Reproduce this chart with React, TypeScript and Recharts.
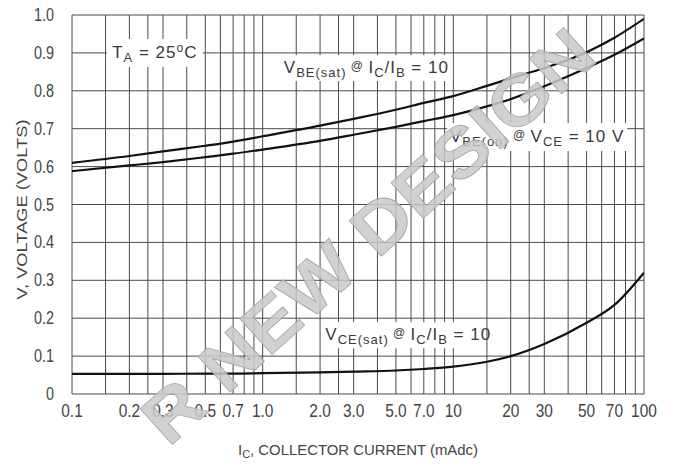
import React from "react";
import { LineChart, Line, XAxis, YAxis, ReferenceLine, ReferenceDot } from "recharts";

// Collector current (mA)
const currents = [0.1, 0.2, 0.3, 0.5, 0.7, 1, 2, 3, 5, 7, 10, 15, 20, 30, 50, 70, 100];
// VBE(sat) @ IC/IB = 10
const vbeSat = [0.61, 0.628, 0.64, 0.655, 0.666, 0.68, 0.708, 0.726, 0.75, 0.768, 0.786, 0.813, 0.833, 0.86, 0.902, 0.94, 0.99];
// VBE(on) @ VCE = 10 V
const vbeOn = [0.588, 0.603, 0.612, 0.625, 0.634, 0.645, 0.668, 0.684, 0.705, 0.72, 0.736, 0.759, 0.778, 0.812, 0.86, 0.895, 0.938];
// VCE(sat) @ IC/IB = 10
const vceSat = [0.053, 0.053, 0.053, 0.054, 0.054, 0.055, 0.057, 0.059, 0.062, 0.066, 0.072, 0.085, 0.1, 0.132, 0.188, 0.235, 0.32];

const xTicks = [0.1, 0.2, 0.3, 0.5, 0.7, 1, 2, 3, 5, 7, 10, 20, 30, 50, 70, 100];
const xTickLabels = ["0.1", "0.2", "0.3", "0.5", "0.7", "1.0", "2.0", "3.0", "5.0", "7.0", "10", "20", "30", "50", "70", "100"];
const yTicks = [0, 0.1, 0.2, 0.3, 0.4, 0.5, 0.6, 0.7, 0.8, 0.9, 1.0];
const yTickLabels = ["0", "0.1", "0.2", "0.3", "0.4", "0.5", "0.6", "0.7", "0.8", "0.9", "1.0"];
const gridX = [0.1, 0.15, 0.2, 0.25, 0.3, 0.4, 0.5, 0.6, 0.7, 0.8, 0.9, 1, 1.5, 2, 2.5, 3, 4, 5, 6, 7, 8, 9, 10, 15, 20, 25, 30, 40, 50, 60, 70, 80, 90, 100];
const gridY = [0, 0.1, 0.2, 0.3, 0.4, 0.5, 0.6, 0.7, 0.8, 0.9, 1.0];

const data = currents.map((c, i) => ({ ic: c, vbeSat: vbeSat[i], vbeOn: vbeOn[i], vceSat: vceSat[i] }));

const FONT = "'Liberation Sans', Arial, sans-serif";
const TXT = "#3a3a3a";

const XTick = (props: any) => {
  const { x, y, payload } = props;
  const i = xTicks.findIndex((t) => Math.abs(t - payload.value) < 1e-9);
  return (
    <g transform={`translate(${x},${y})`}>
      <text transform="scale(0.86,1)" x={0} y={15} textAnchor="middle" fontFamily={FONT} fontSize={18} fill="#444">
        {xTickLabels[i] ?? String(payload.value)}
      </text>
    </g>
  );
};

const YTick = (props: any) => {
  const { x, y, payload } = props;
  const i = yTicks.findIndex((t) => Math.abs(t - payload.value) < 1e-9);
  return (
    <g transform={`translate(${x},${y})`}>
      <text transform="scale(0.8,1)" x={0} y={6} textAnchor="end" fontFamily={FONT} fontSize={18} fill="#444">
        {yTickLabels[i] ?? String(payload.value)}
      </text>
    </g>
  );
};

const Box = (w: number, h: number, content: React.ReactNode) => (props: any) => {
  const { cx, cy } = props;
  return (
    <g>
      <rect x={cx - w / 2} y={cy - h / 2} width={w} height={h} fill="#fff" />
      <text x={cx} y={cy + 5} textAnchor="middle" fontFamily={FONT} fontSize={17} letterSpacing={1} fill={TXT}>
        {content}
      </text>
    </g>
  );
};

const taLabel = (
  <>
    <tspan>T</tspan>
    <tspan fontSize={13} dy={4}>A</tspan>
    <tspan dy={-4}> = 25</tspan>
    <tspan fontSize={12} dy={-6}>o</tspan>
    <tspan dy={6}>C</tspan>
  </>
);
const vbeSatLabel = (
  <>
    <tspan>V</tspan>
    <tspan fontSize={13} dy={4}>BE(sat)</tspan>
    <tspan fontSize={12} dy={-7}> @ </tspan>
    <tspan dy={3}>I</tspan>
    <tspan fontSize={13} dy={4}>C</tspan>
    <tspan dy={-4}>/I</tspan>
    <tspan fontSize={13} dy={4}>B</tspan>
    <tspan dy={-4}> = 10</tspan>
  </>
);
const vbeOnLabel = (
  <>
    <tspan>V</tspan>
    <tspan fontSize={13} dy={4}>BE(on)</tspan>
    <tspan fontSize={12} dy={-7}> @ </tspan>
    <tspan dy={3}>V</tspan>
    <tspan fontSize={13} dy={4}>CE</tspan>
    <tspan dy={-4}> = 10 V</tspan>
  </>
);
const vceSatLabel = (
  <>
    <tspan>V</tspan>
    <tspan fontSize={13} dy={4}>CE(sat)</tspan>
    <tspan fontSize={12} dy={-7}> @ </tspan>
    <tspan dy={3}>I</tspan>
    <tspan fontSize={13} dy={4}>C</tspan>
    <tspan dy={-4}>/I</tspan>
    <tspan fontSize={13} dy={4}>B</tspan>
    <tspan dy={-4}> = 10</tspan>
  </>
);

export default function App() {
  return (
    <div style={{ position: "absolute", left: 0, top: 0, width: 678, height: 468, background: "#fff", overflow: "hidden" }}>
      <LineChart width={678} height={468} data={data} margin={{ top: 15, right: 34, bottom: 0, left: 0 }}>
        <XAxis
          dataKey="ic"
          type="number"
          scale="log"
          domain={[0.1, 100]}
          ticks={xTicks}
          interval={0}
          allowDataOverflow
          height={74}
          tickLine={false}
          axisLine={false}
          tick={<XTick />}
          label={{
            content: (p: any) => {
              const vb = p.viewBox;
              return (
                <text x={vb.x + vb.width / 2} y={vb.y + 61} textAnchor="middle" fontFamily={FONT} fontSize={15} textLength={240} lengthAdjust="spacingAndGlyphs" fill="#444">
                  <tspan>I</tspan>
                  <tspan fontSize={11} dy={3}>C</tspan>
                  <tspan dy={-3}>, COLLECTOR CURRENT (mAdc)</tspan>
                </text>
              );
            },
          }}
        />
        <YAxis
          type="number"
          domain={[0, 1]}
          ticks={yTicks}
          interval={0}
          width={72}
          tickLine={false}
          axisLine={false}
          tickMargin={12}
          tick={<YTick />}
          label={{
            content: (p: any) => {
              const vb = p.viewBox;
              const cy = vb.y + vb.height / 2 + 5;
              return (
                <text x={27} y={cy} transform={`rotate(-90, 27, ${cy})`} textAnchor="middle" fontFamily={FONT} fontSize={15} textLength={180} lengthAdjust="spacingAndGlyphs" fill="#444">
                  V, VOLTAGE (VOLTS)
                </text>
              );
            },
          }}
        />
        {gridX.map((g) => (
          <ReferenceLine key={"gx" + g} x={g} stroke="#4a4a4a" strokeWidth={1} />
        ))}
        {gridY.map((g) => (
          <ReferenceLine key={"gy" + g} y={g} stroke="#4a4a4a" strokeWidth={1} />
        ))}
        <ReferenceDot x={0.272} y={0.9} r={0} shape={Box(96, 28, taLabel)} />
        <ReferenceDot x={3.5} y={0.86} r={0} shape={Box(172, 26, vbeSatLabel)} />
        <ReferenceDot x={27.5} y={0.678} r={0} shape={Box(180, 28, vbeOnLabel)} />
        <ReferenceDot x={5.8} y={0.155} r={0} shape={Box(150, 26, vceSatLabel)} />
        <Line dataKey="vbeSat" type="monotone" stroke="#111" strokeWidth={2.2} dot={false} isAnimationActive={false} />
        <Line dataKey="vbeOn" type="monotone" stroke="#111" strokeWidth={2.2} dot={false} isAnimationActive={false} />
        <Line dataKey="vceSat" type="monotone" stroke="#111" strokeWidth={2.2} dot={false} isAnimationActive={false} />
      </LineChart>
      <svg width={678} height={468} style={{ position: "absolute", left: 0, top: 0, pointerEvents: "none" }}>
        <text
          x={368}
          y={236}
          transform="rotate(-42, 368, 236)"
          textAnchor="middle"
          dominantBaseline="central"
          fontFamily={FONT}
          fontWeight="bold"
          fontSize={70}
          textLength={580}
          lengthAdjust="spacingAndGlyphs"
          fill="#c9c9c9"
          fillOpacity={0.85}
          stroke="#a5a5a5"
          strokeWidth={0.8}
        >
          R NEW DESIGN
        </text>
      </svg>
    </div>
  );
}
